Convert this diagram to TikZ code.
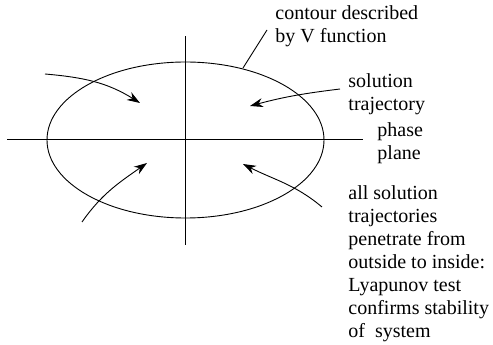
\documentclass[tikz,border=0pt]{standalone}
\usepackage{fontspec}
\setmainfont{Liberation Serif}
\usepackage{tikz}
\usetikzlibrary{positioning,arrows.meta}

\begin{document}
\begin{tikzpicture}[x=1pt,y=1pt,
      line width=0.9pt,
      lbl/.style={font=\fontsize{20}{23}\selectfont,align=left,anchor=west,inner sep=0pt},
      traj/.style={-{Stealth[length=13pt,width=9pt]}}]

    \useasboundingbox (0,0) rectangle (493,345);

    % phase plane axes
    \coordinate (xl) at (7,206);
    \coordinate (xr) at (363,206);
    \coordinate (yb) at (185,100);
    \coordinate (yt) at (185,309);
    \draw (xl) -- (xr);
    \draw (yb) -- (yt);

    % V contour
    \draw (185.5,205) ellipse [x radius=138.5,y radius=78];
    \coordinate (onv) at (243,277);

    \node[lbl] (contour) at (275,319) {contour described\\by V function};
    \node[lbl] (sol) at (348,251) {solution\\trajectory};
    \node[lbl] (phase) at (377,202) {phase\\plane};
    \node[lbl] (all) at (348,81) {all solution\\trajectories\\penetrate from\\outside to inside:\\Lyapunov test\\confirms stability\\of~ system};

    \draw (onv) -- (267,315);

    % trajectories
    \coordinate (s1) at (45,271);  \coordinate (e1) at (140,242);
    \coordinate (s2) at (340,256); \coordinate (e2) at (250,239);
    \coordinate (s3) at (82,123);  \coordinate (e3) at (147,182);
    \coordinate (s4) at (322,138); \coordinate (e4) at (243,181);
    \draw[traj] (s1) to[out=-5,in=148] (e1);
    \draw[traj] (s2) to[out=187,in=15] (e2);
    \draw[traj] (s3) to[out=55,in=215] (e3);
    \draw[traj] (s4) to[out=140,in=-27] (e4);
  \end{tikzpicture}
\end{document}
